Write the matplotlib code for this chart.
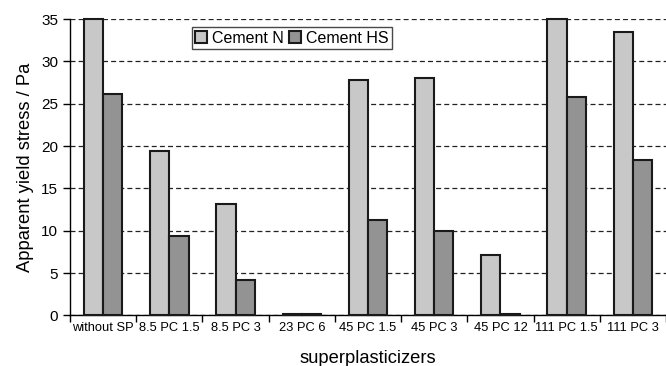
import numpy as np
import matplotlib
matplotlib.use("Agg")
import matplotlib.pyplot as plt

plt.rcParams['font.family'] = ['Liberation Sans', 'DejaVu Sans']

categories = ["without SP", "8.5 PC 1.5", "8.5 PC 3", "23 PC 6", "45 PC 1.5",
              "45 PC 3", "45 PC 12", "111 PC 1.5", "111 PC 3"]
cement_n = [35.0, 19.4, 13.2, 0.15, 27.8, 28.0, 7.2, 35.0, 33.5]
cement_hs = [26.2, 9.4, 4.2, 0.15, 11.3, 10.0, 0.15, 25.8, 18.3]

fig = plt.figure(figsize=(6.66, 3.66), dpi=100)
ax = fig.add_axes([0.1051, 0.138, 0.8949, 0.810])

x = np.arange(len(categories))
w = 0.29
ax.bar(x - w / 2, cement_n, w, color='#c8c8c8', edgecolor='#1a1a1a',
       linewidth=1.5, label='Cement N', zorder=3, clip_on=False)
ax.bar(x + w / 2, cement_hs, w, color='#939393', edgecolor='#1a1a1a',
       linewidth=1.5, label='Cement HS', zorder=3, clip_on=False)

ax.set_xlim(-0.5, len(categories) - 0.5)
ax.set_ylim(0, 35)
ax.set_yticks(range(0, 36, 5))
ax.yaxis.grid(True, linestyle=(0, (4, 2.5)), color='#222222', linewidth=0.9)
ax.set_axisbelow(True)

# boundary ticks between groups, labels centred under each group
ax.set_xticks(np.arange(-0.5, len(categories), 1.0))
ax.set_xticklabels([])
ax.set_xticks(x, minor=True)
ax.set_xticklabels(categories, minor=True, fontsize=9.3)
ax.tick_params(axis='x', which='minor', length=0, pad=5)
ax.tick_params(axis='x', which='major', direction='out', length=5, width=1)
ax.tick_params(axis='y', direction='out', length=5, width=1, labelsize=11)

for side in ('top', 'right'):
    ax.spines[side].set_visible(False)
for side in ('left', 'bottom'):
    ax.spines[side].set_linewidth(1.0)

ax.set_ylabel('Apparent yield stress / Pa', fontsize=13.2, labelpad=5)
ax.set_xlabel('superplasticizers', fontsize=13.2, labelpad=11)

leg = ax.legend(loc='upper left', bbox_to_anchor=(0.204, 0.973), ncol=2,
                fontsize=11.5, frameon=True, fancybox=False, borderpad=0.22,
                handlelength=0.75, handleheight=0.75, handletextpad=0.3,
                columnspacing=0.35, borderaxespad=0)
leg.get_frame().set_edgecolor('#1a1a1a')
leg.get_frame().set_linewidth(1.0)

fig.savefig('out.png', dpi=100)
